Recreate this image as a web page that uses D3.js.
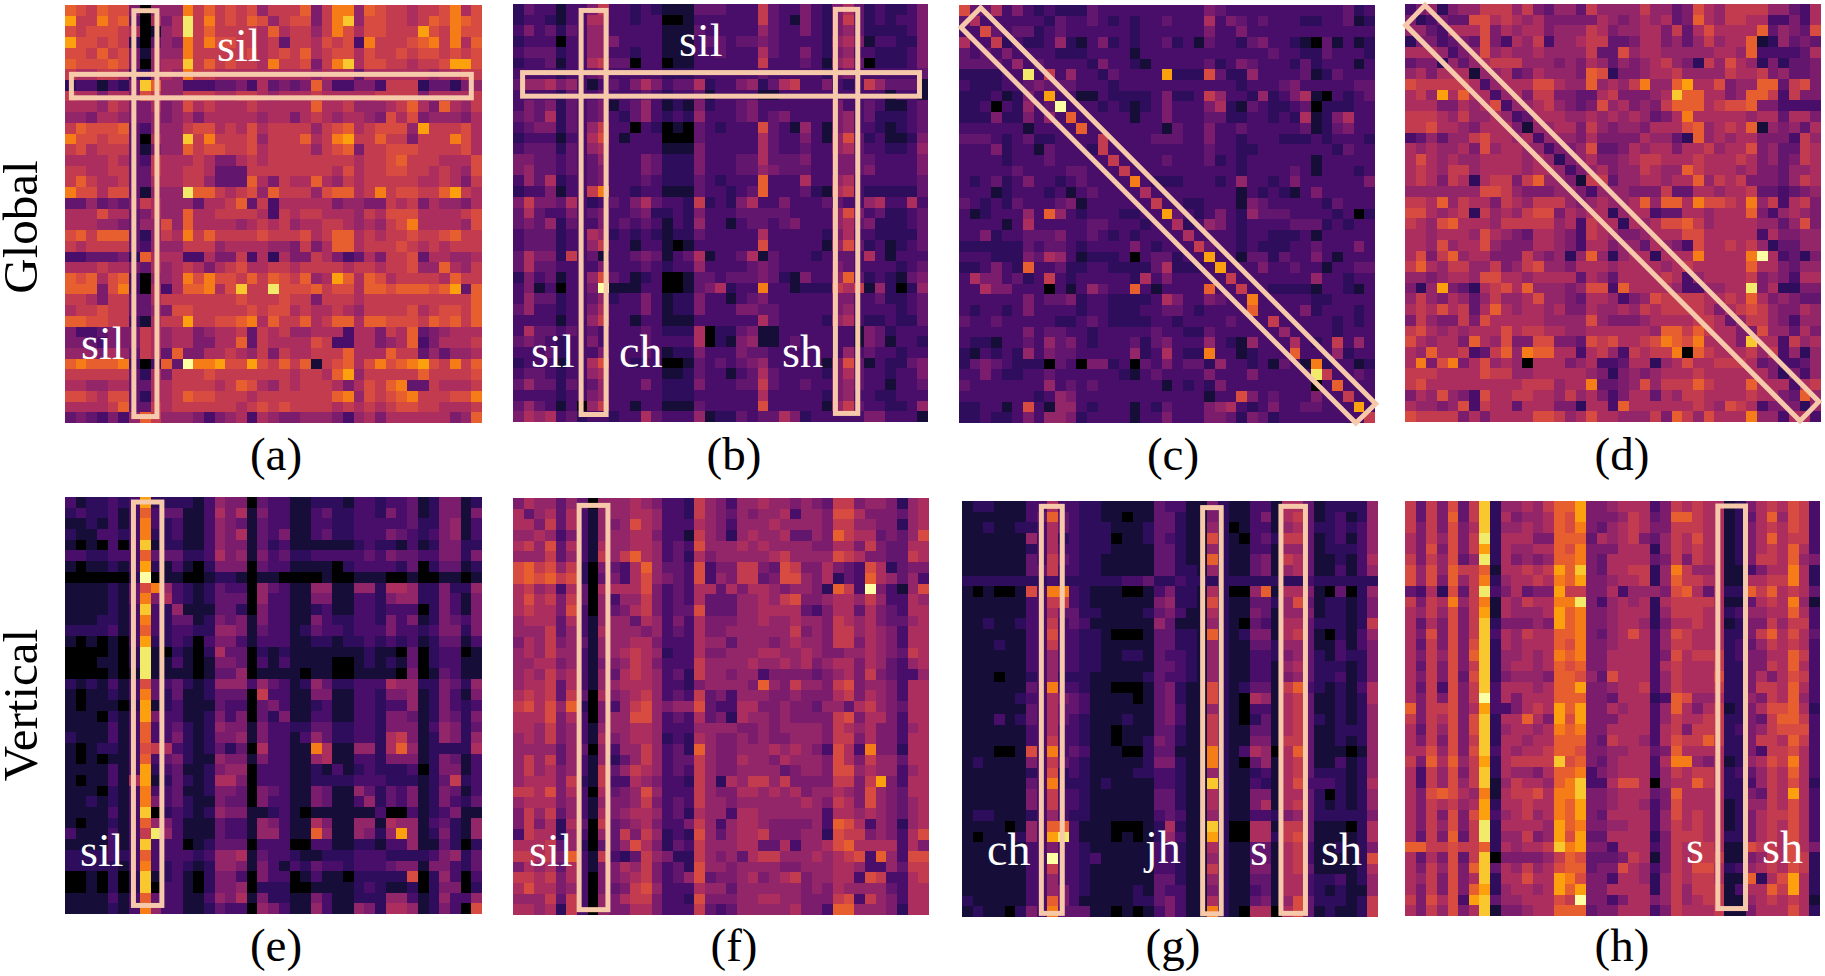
<!DOCTYPE html>
<html>
<head>
<meta charset="utf-8">
<script src="https://cdn.jsdelivr.net/npm/d3@7"></script>
<style>
  html, body { margin: 0; background: #fff; }
  text { font-family: "Liberation Serif", serif; }
</style>
</head>
<body>
<svg id="chart" width="1825" height="976"></svg>
<script>
// attention levels, one hex digit per cell (0 = black, f = pale yellow)
var panelA = [
"a98a995066 6b8a898968 88a58bb6a9 887889b79",
"c88b9a4075 7e8b898a96 89958bd699 8878a9ba9",
"9899987016 7e8a88887a 78868b9799 888c98b99",
"c998982046 5b8b998878 48879893b8 889ab8b7a",
"998a895166 6b88888978 98a7899798 898998989",
"a999a95067 7d8a89887b 88958bd799 887889cc9",
"8778873267 6b88777777 7776777477 777767788",
"2331325da6 6333445374 545a633553 888244256",
"8775775986 6888778876 7778777778 888577778",
"7776875575 6978777877 777a778666 78a75a768",
"6657765565 6757777767 7578767765 979566657",
"8a999a4366 6899787978 888689a789 996c88897",
"b998994076 6d8b888968 88a78bc88a 885888b97",
"8978884156 6a89988978 888689a588 999888897",
"7777874387 7787557878 8888888788 9a8887779",
"8877884487 7887444888 8888879788 998878769",
"8a87784477 7886444a75 877a768788 888778758",
"b997994166 6eaa87896a 88869aa78b 89988ac87",
"4464545876 664778a483 7777756655 878576657",
"7779774576 6a77888873 8788777687 999777789",
"7776654669 6a77776787 8677887676 89b777769",
"9a8aaa4268 7b8a888898 88978aa787 889889a88",
"8788884366 6888677776 65857aa788 898787888",
"3344452a77 7337558372 7558753475 889477667",
"7778775476 7875789778 8788887887 88966a768",
"a9a79a3066 7b9b998a8a 98a67ca7a9 788887a88",
"aaa59b3073 7aab79d88e 999a8997aa 9aaa9ac4a",
"8875884478 8888889888 9885888788 88888888a",
"7889884465 9988888989 9787787688 88978998a",
"aa99883178 8c8899ab7a 88a78aa7aa 9998a9a8a",
"5334555876 7756778487 8667773775 87a456777",
"5543555876 775577a487 7779833775 67a357778",
"6665764874 a557787685 877888a777 a88464667",
"abaaab303a 4fbbc99c98 a8a189a79b 9abc98b8a",
"8888884275 8889888888 87887ac688 888a88889",
"7766774477 888878a976 8788875798 ab4487778",
"9987994277 8a99888788 88888ab698 9ab88899b",
"77778a4487 8888887898 9888878787 899887778",
"4543536a86 6653567376 5566653675 77777756a"
];
var panelB = [
"2433133583 3232111444 3338433532 574232235",
"2332133773 3233001333 3338431532 584232335",
"3534243663 3333111433 3336433532 564222235",
"2333033665 3333111344 3445433332 675133225",
"3444233663 3233111334 3337433532 563322235",
"2334133784 4033011333 3338333431 674022235",
"3333233453 3333222333 3334333332 453333334",
"4667563134 3575344723 3562478335 323864441",
"3333243343 3343233413 3331133333 333331331",
"3545243451 3463121523 3453333333 533431134",
"4547243453 2463232633 3453453333 563422234",
"3455243683 3032010432 3339431631 563321234",
"2333133793 1333000433 3337433531 694231125",
"3444243673 3333111533 3337433433 674332236",
"5544343463 3354222533 3447444533 554433335",
"5644343453 3354222533 3446544433 554533335",
"3647233453 3343222432 333a333733 673333334",
"23351338b3 3233111433 234a333421 783222224",
"5855473234 3574332823 2573353334 433673373",
"4743353453 3452232533 3444443333 695342234",
"4546243353 4343132633 1344345333 674522234",
"3444233762 3232122433 3337333332 573322224",
"3444233683 3133101333 3339333331 694231234",
"4755283413 3454134713 3471433323 443731333",
"4744333353 3343233633 3345433333 543333234",
"2534133694 3123001443 4445421533 6a4232145",
"35130335f1 1133001457 233b331222 878162026",
"3644233462 3353122533 1345333333 553342234",
"4633233573 3353122533 3554433333 563333234",
"3333133683 3133111333 3337433332 673223224",
"3744343433 3343222702 2451133333 331542333",
"4543233533 3343333702 1561134333 331541332",
"3334233353 3343122533 3544333333 363433233",
"2333133793 3233001434 3456333331 594132245",
"3443233673 3333112433 1347433332 574332335",
"4644243463 3353222533 3448433433 564331334",
"3333233563 3333222333 3337333332 563322333",
"4643130683 3133111433 3339333331 684332236",
"5767342332 3374333612 2434475233 333553331"
];
var panelC = [
"9447353232 2243333333 3335433333 333333423",
"4733333324 3343232334 3337354343 332233412",
"3394344234 3333332333 3335335333 333333333",
"7338232236 2135232334 2314332453 321041312",
"4343533332 2233331333 3333333334 332243332",
"4444363433 3325332133 3334235433 324233313",
"222233e383 633243333c 2229422633 334124333",
"3222334544 4333233333 3333332333 453333344",
"22231253c3 3113222235 2238633262 357103234",
"223032634f 3332321235 3335721432 234022233",
"2225225363 a333331335 3334422332 327125733",
"3333331333 3a33333331 4335334333 334124533",
"4443234223 3338333344 4335332333 222323332",
"3335233143 3328333333 3334332233 333332433",
"3333233343 3333833334 3334232333 333133333",
"3333343333 4433383333 3333332333 343133323",
"3234235332 343333b322 2333236332 353333335",
"3331233323 1343333733 3333331323 213533333",
"4323243334 5133333383 3223331543 333324333",
"31233363a6 323332233c 4323532644 433332302",
"3333137333 3344333233 7236532333 344423233",
"3352334445 3343232333 3733332332 223133333",
"2222224344 3233335323 3384332322 233433353",
"3332225476 3122230344 233c331442 433531333",
"223532a334 2233222247 2223c33353 343313344",
"3755342383 2333332735 3333383333 333633233",
"3375533303 136433a313 333a338332 222133213",
"3333335344 5233222237 5335433b33 333223333",
"3233235333 3233222334 4323333a33 335233323",
"4334333332 2343222233 2333343338 333332323",
"3333335344 3323333343 3224333333 633332333",
"3221334364 5323334245 3336321633 373238363",
"2132326354 4333336237 322b331233 3a3336233",
"2454322204 3055230435 3442633231 431b23312",
"3353223343 3333321343 3335333533 333e83343",
"4333333363 4343333331 3232533333 33303a333",
"3333333236 5333333333 3331339534 333533833",
"2233139316 6323331324 3335673235 3344333c3",
"2232235366 5233331335 3335542542 333333338"
];
var panelD = [
"3562566888 6854664866 6686645976 888866437",
"5235449978 7675555576 5676745a76 887733537",
"6643777957 6775666875 6677584797 777a46549",
"2553454953 7683667884 4577564686 77a126454",
"7776356967 6676666844 9677666667 76a333347",
"4552646788 8666565764 6567865286 976252445",
"6757771667 4576665a92 5567786666 877856445",
"9888887367 7799766a67 68b66ac779 566aa4895",
"786c7a7736 7588554478 55567daa77 56aa83855",
"7775576793 6678654596 75658aaa78 99a553333",
"8887686676 3477766767 676457b777 776774775",
"8897765777 5166775865 6657779a67 87a165647",
"3464668977 6736665755 5576642a67 677555386",
"7676675967 7663556944 5767757786 779564487",
"7976766777 7676256755 6788777877 787564587",
"7876886777 7677635675 668766a877 767554667",
"7875872788 58a6651884 6677677a68 785554687",
"6666666998 6555665366 6555844776 778443456",
"887a687758 7688865676 67a6aa7b99 87b683785",
"9976782867 6899576772 6773447767 77a536765",
"8769a77768 8888673877 276799a867 777664695",
"7767776976 5477653876 5567779977 777375566",
"7769677965 5577653775 6647653977 878624466",
"7958a67755 5865626a62 6772777b77 77bf73425",
"8a76886685 6896657776 7777678777 77a775466",
"6656776997 7677774764 7777873677 778565377",
"526c542789 7a66656993 a777763366 77e572255",
"6865764686 6796654776 3569888877 87a756544",
"78797847a7 6776755766 7687888875 789865576",
"5865585977 7776666965 5567777887 468865366",
"8976767779 7887766777 7776aa8a87 755966475",
"976775a769 5599554989 7789ba9b77 75d773867",
"76a778348a 6baa773786 38788b0a87 778683626",
"7b59b57967 6077756733 4772679778 887453346",
"8887777988 6677777652 5656777877 777752536",
"8977777777 7888677b44 5696888a87 77a777378",
"5769653977 8877686753 5774768877 7787754a6",
"7665693877 4777552773 a777777876 987355526",
"9888857577 7799867977 66685a8697 77b663773"
];
var panelE = [
"3122323c22 2213655043 3112221332 334125512",
"2322313a34 4113757153 3113422332 534125515",
"1121313b32 3113654143 3113322333 334225613",
"2113323b22 3113657143 5113422333 543235613",
"1010303d12 2113655142 3111111232 213125522",
"3322333a44 4223756153 4223333343 544335525",
"1011213c21 3102555043 3111102333 324024412",
"0000002f01 1001221011 0000100111 001001101",
"11112149b6 3212433064 3116611662 776225226",
"1111214b57 3212444063 3115511332 566225315",
"1111213d32 6111442053 3112311332 333025315",
"1112213b32 4412545153 3115322332 535125435",
"2222313a32 3322665143 3124332333 533235525",
"1010103c22 3203553133 3112212232 323124413",
"0000102e10 2102744021 2111111121 104023301",
"0001102e11 3101554031 3111100121 214023311",
"0000101e11 1101446011 1101100111 105014311",
"2121313943 4212666364 3126422333 766225426",
"1011213b42 4112444083 3115511332 556125315",
"1011102c12 3111433045 3112311332 336125323",
"1110213c53 3112535042 5113311332 554125425",
"1111313a33 4212655153 3224422332 555136524",
"2111313a33 5212556153 3136422332 785126526",
"1012213987 3212424073 311b711662 7a6122227",
"1010113a34 5211655153 3116711332 555125413",
"1111313c23 4112566033 3112131232 223025513",
"1011317c12 4212775033 3112222333 222124823",
"1110213b33 4112554054 3115411642 435125413",
"1121213b53 4211544053 3115411362 435125324",
"1111313d02 3212655112 3101111113 003123511",
"1011213a65 3111433165 3117511661 766134216",
"31113138e6 3111433166 311a611652 6c6125216",
"1111313d33 3012444033 3003311221 336114202",
"2222323a33 3323667143 3211222333 222235624",
"2222213b32 3212665153 1324332333 455155324",
"0010202d12 3102553053 3013110222 229026303",
"0010202d03 3102556022 2001111232 112025502",
"1111313a43 3113657152 2115311222 663126336",
"1111213b63 3112433065 3116311652 776125309"
];
var panelF = [
"5766464066 6765332865 3667665654 885665267",
"7467473166 6776332865 4656673665 997555467",
"7758473165 6976333765 3666766665 886655267",
"6676353166 6775331865 2676674465 a87745469",
"7869473176 6776343966 6767666655 775854477",
"6668463186 8a76342756 6666786666 987554487",
"9a89682054 37a6443935 5885498557 543972455",
"9a9a892045 3796543936 5884599657 243a76463",
"7867374077 7795343774 7577656652 a83f53169",
"7978584063 6685343744 4667689556 776863376",
"7877593064 5785344944 4667777435 774754377",
"6777473166 6476353755 5667667665 876754467",
"6668463176 6656343755 6666668565 886765377",
"5768564166 6775333766 4666567665 885765377",
"6768663166 7876233755 6667766765 566765487",
"6677563155 6875333866 6676676756 775764367",
"6768673164 7876342866 5663555545 675854336",
"6778473166 7776332566 665a658665 895665377",
"7878484075 6786343845 3666556555 785765377",
"89796a2053 6896566943 3775565546 647865477",
"7779573056 6996343745 2766565555 895775377",
"7768563166 6776333666 6556566665 876755367",
"6768563175 6776232765 5656556665 885755377",
"6666464063 6686342a65 5666767653 973b55277",
"6868463162 4686344865 5766576665 975866477",
"6867563184 6876343865 5666645665 996766367",
"6777582183 3765332862 7688685555 8858c5377",
"8879573074 5696333865 5776767566 765965477",
"6777563165 5685343866 5666666765 875965467",
"5868463175 6776342766 3776666663 776765467",
"5857274084 5675335863 6776555563 a97365267",
"3877263064 8586232964 6778555662 988565379",
"7778462044 6975243866 6774473667 9a7777375",
"88785a3183 2486522865 6478866676 7893a6399",
"5767473155 7685342966 5666655666 776336488",
"8878573055 6785346945 5675678566 773983378",
"7977563054 5896333766 4666666565 766664377",
"6668483065 7885332955 5667766555 893865377",
"7767283065 5775333843 4666667553 aa6665277"
];
var panelG = [
"1221113373 3221111143 3115211331 774122226",
"11111134a4 3221101144 2115211351 784123126",
"1121122374 3222111244 2116201331 674223236",
"1111116372 3222011243 2119210342 884123136",
"1111112373 3222111144 2116211331 664122236",
"1111114384 3221111144 211a211451 874112137",
"1111114483 3221111144 2216211451 674113136",
"2222222232 2222233422 3222222222 223222222",
"10100193bb 3211100135 22172006a1 775104026",
"1111113388 3211111156 2219211442 694122125",
"1111113374 4221111245 3117211541 665122125",
"1121123383 4311111164 1116210431 774222128",
"1111113393 3221000144 221a212551 784102136",
"1112113383 3221111144 2216211442 664113135",
"1111113363 3221122143 3216211332 564213225",
"1111113363 3221111144 3216211331 674222125",
"1110112362 2211111243 3216211331 564223125",
"11111143b3 3211000145 2119212441 8a3212137",
"1111123375 4311110145 2119210761 784112127",
"1111114374 4311111145 3116210331 784112126",
"1113124374 3211121145 3118210241 784212126",
"1111113373 3211011144 2118211441 784112226",
"1111113383 3211011254 2118211551 884112126",
"11100193b3 4311100244 111b213760 7a4111016",
"1211115384 3211111255 211b210461 784113126",
"1111112392 3211112233 2116211231 784222126",
"11111143b2 2212111133 211d211321 793332127",
"1111115383 3211111144 2117211551 774202126",
"1111115383 3211111144 2117211571 784212126",
"1221112363 2211111134 3116211332 564222225",
"11110163aa 3111000127 211d200771 884111027",
"10111263ce 3111010126 311c200772 894111127",
"1111113353 3211111133 2117211441 783112125",
"11111133f3 3231111133 2116211441 783111129",
"1111113383 3211111133 2118211551 784111127",
"1111113363 3211111144 2116211441 773223126",
"1111113365 3211112143 3115211341 773212116",
"21111133a5 3111112245 3117211451 694222128",
"12110253b4 4411010135 311b210770 794121128"
];
var panelH = [
"8485948d26 6768aac556 7773587877 125787983",
"8485a48d27 5667a9c555 68745aa877 1247a6983",
"8585957d26 6767a9b546 7875588877 125787983",
"7586958e27 7755aaa476 7854687977 1257a7883",
"7595958c27 6677a9b555 7772687877 125787a73",
"8586946e27 5656aab547 7774585877 125887a65",
"9696a88a17 7878cad547 78826b8667 113577b72",
"9695a68b26 7787bac556 77826a8877 117788b72",
"4372948e35 7455c88557 366659a747 22a8a7874",
"8587b68b17 6877bbe536 7672788887 114787b61",
"7686958c17 6667cab556 7772688877 236677a73",
"7475958d25 5565cab556 7762577877 125586883",
"7595958d37 6877aab546 7973698777 2258a7974",
"7485959d27 6777a9b556 7773688777 234687873",
"758695ad26 6767bab557 7773597888 235577a83",
"7485958d26 7767a9a557 7773787778 225587a73",
"7585949d25 6665aa9649 7773687779 225757983",
"7483958d37 7767aac556 7783687778 225887a73",
"7585958f37 5777aaa554 77723a9667 226587a63",
"a588957c33 5787cac557 67736a7578 125799a72",
"8587959d27 7a75c9c555 7773687788 22548aa83",
"7486959d26 7767bab557 7773785888 235689993",
"7585958d27 7677aaa548 77637988a8 225887a83",
"7796959d37 6778aa9556 67745a7777 225388973",
"85a7a68c27 8888d9a546 77737bb657 126798b73",
"7386958d27 6657aab356 7773687887 234687a73",
"7386968d16 8776abd337 9970677a87 223687972",
"759a976b17 8897bbd556 77745a7777 225487c73",
"7587867c27 7877bac556 7763597777 126687973",
"7585959c36 7867bac547 7773697877 125788973",
"7586958e27 7776cab556 6773687877 125787973",
"7485a48e26 6856c9c447 7772588877 225787973",
"aa88988a27 6778dbc553 7773587887 119887975",
"7475948d05 55568a9444 5871587888 115687982",
"758695ad47 68679aa455 9763587997 236787982",
"7685957d27 7977cb9553 7762687887 11a279c72",
"758595ac26 7767cac557 7772686888 1377a8c72",
"859793cd46 677798f553 5775686788 116787871",
"7586957d15 5677aaa455 7773587778 115777972"
];

var panels = [panelA, panelB, panelC, panelD, panelE, panelF, panelG, panelH];
var captions = ["(a)", "(b)", "(c)", "(d)", "(e)", "(f)", "(g)", "(h)"];
var rowNames = ["Global", "Vertical"];

// where each heatmap sits on the page, captionX is the centre of the (a) style label
var boxes = [
    {x: 65, y: 5, w: 417, h: 418, captionX: 276},
    {x: 513, y: 4, w: 415, h: 418, captionX: 734},
    {x: 959, y: 5, w: 416, h: 418, captionX: 1173},
    {x: 1405, y: 4, w: 416, h: 418, captionX: 1622},
    {x: 65, y: 497, w: 417, h: 417, captionX: 276},
    {x: 513, y: 498, w: 416, h: 417, captionX: 734},
    {x: 962, y: 501, w: 416, h: 416, captionX: 1173},
    {x: 1405, y: 501, w: 415, h: 415, captionX: 1622}
];

// highlight frames in cell units [x0, x1, y0, y1], diagonals as polygons
var frames = [
    [[6.44, 8.6, 0.53, 38.4], [0.6, 38, 6.47, 8.66]],
    [[6.4, 8.75, 0.6, 38.3], [30.3, 32.4, 0.5, 38.2], [0.9, 38.2, 6.4, 8.6]],
    [],
    [],
    [[6.4, 9.06, 0.47, 38.2]],
    [[6.2, 8.9, 0.69, 38.5]],
    [[7.44, 9.4, 0.5, 38.66], [22.56, 24.3, 0.62, 38.7], [29.9, 32.2, 0.5, 38.66]],
    [[29.4, 32, 0.47, 38.3]]
];
var diagonals = [
    null, null,
    [[2.03, 0.25], [39.06, 37.2], [37.2, 39], [0.19, 2.1]],
    [[1.87, 0.12], [38.8, 37.1], [37.03, 38.9], [0.06, 1.97]],
    null, null, null, null
];

var phoneLabels = [
    {t: "sil", x: 217, y: 61}, {t: "sil", x: 81, y: 359},
    {t: "sil", x: 679, y: 56}, {t: "sil", x: 531, y: 367}, {t: "ch", x: 619, y: 367}, {t: "sh", x: 782, y: 367},
    {t: "sil", x: 80, y: 866}, {t: "sil", x: 529, y: 866},
    {t: "ch", x: 987, y: 865}, {t: "jh", x: 1145, y: 863}, {t: "s", x: 1250, y: 865}, {t: "sh", x: 1321, y: 865},
    {t: "s", x: 1686, y: 863}, {t: "sh", x: 1762, y: 863}
];

// position of each hex level on the inferno ramp
var levelStops = [0, 0.10, 0.16, 0.22, 0.28, 0.34, 0.40, 0.46, 0.52, 0.58, 0.64, 0.71, 0.79, 0.87, 0.94, 1];

var svg = d3.select("#chart");
var level = d3.scaleLinear().domain(d3.range(16)).range(levelStops);
var color = d3.scaleSequential(d3.interpolateInferno).domain([0, 1]);
var frameColor = "#f7c9ab";
var cellCount = 39;

// the reference heatmaps are slightly soft, it was a resized image
svg.append("defs").append("filter")
    .attr("id", "soft")
    .attr("x", "-1%").attr("y", "-1%").attr("width", "102%").attr("height", "102%")
    .append("feGaussianBlur")
    .attr("stdDeviation", 0.6);

panels.forEach(function(rows, p) {
    var box = boxes[p];
    var values = rows.map(function(r) {
        return r.replace(/\s/g, "").split("").map(function(c) { return parseInt(c, 16); });
    });
    var x = d3.scaleLinear().domain([0, cellCount]).range([box.x, box.x + box.w]);
    var y = d3.scaleLinear().domain([0, cellCount]).range([box.y, box.y + box.h]);

    var g = svg.append("g");
    g.append("g")
        .attr("filter", "url(#soft)")
        .selectAll("g")
        .data(values)
        .enter()
        .append("g")
        .each(function(row, r) {
            d3.select(this).selectAll("rect")
                .data(row)
                .enter()
                .append("rect")
                .attr("x", function(d, c) { return x(c); })
                .attr("y", y(r))
                .attr("width", function(d, c) { return x(c + 1) - x(c); })
                .attr("height", y(r + 1) - y(r))
                .attr("fill", function(d) { return color(level(d)); })
                .attr("shape-rendering", "crispEdges");
        });

    g.selectAll("rect.frame")
        .data(frames[p])
        .enter()
        .append("rect")
        .attr("class", "frame")
        .attr("x", function(d) { return x(d[0]); })
        .attr("y", function(d) { return y(d[2]); })
        .attr("width", function(d) { return x(d[1]) - x(d[0]); })
        .attr("height", function(d) { return y(d[3]) - y(d[2]); })
        .attr("fill", "none")
        .attr("stroke", frameColor)
        .attr("stroke-width", 5);

    if (diagonals[p]) {
        g.append("polygon")
            .attr("points", diagonals[p].map(function(d) { return x(d[0]) + "," + y(d[1]); }).join(" "))
            .attr("fill", "none")
            .attr("stroke", frameColor)
            .attr("stroke-width", 5);
    }

    svg.append("text")
        .attr("x", box.captionX)
        .attr("y", p < 4 ? 470 : 961)
        .attr("text-anchor", "middle")
        .attr("font-size", 47)
        .text(captions[p]);
});

svg.selectAll("text.phone")
    .data(phoneLabels)
    .enter()
    .append("text")
    .attr("class", "phone")
    .attr("x", function(d) { return d.x; })
    .attr("y", function(d) { return d.y; })
    .attr("font-size", 46)
    .attr("fill", "#fff")
    .text(function(d) { return d.t; });

svg.selectAll("text.rowname")
    .data(rowNames)
    .enter()
    .append("text")
    .attr("class", "rowname")
    .attr("text-anchor", "middle")
    .attr("font-size", 49)
    .attr("transform", function(d, i) { return "translate(37," + (i === 0 ? 227 : 705) + ") rotate(-90)"; })
    .text(function(d) { return d; });
</script>
</body>
</html>
